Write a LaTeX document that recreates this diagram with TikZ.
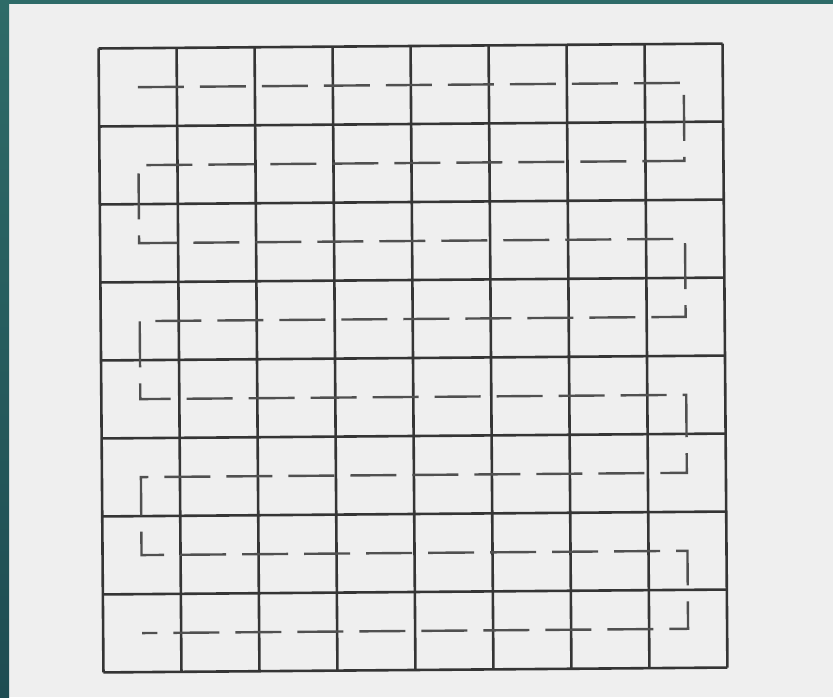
\documentclass[tikz,border=0pt]{standalone}
\definecolor{tealA}{HTML}{2E6B68}
\definecolor{tealB}{HTML}{1E4C52}
\definecolor{paper}{HTML}{EFEFEF}
\definecolor{gridc}{HTML}{353535}
\definecolor{pathc}{HTML}{505050}
\begin{document}
\begin{tikzpicture}[x=1pt,y=-1pt,
  gridline/.style={draw=gridc,line width=2.6pt,line cap=square},
  snake/.style={draw=pathc,line width=2.4pt,dash pattern=on 46pt off 16pt,line join=miter}]
\useasboundingbox (0,0) rectangle (833,697);
\fill[paper] (0,0) rectangle (833,697);
\shade[top color=tealA,bottom color=tealB] (0,0) rectangle (9,697);
\fill[tealA] (0,0) rectangle (833,4);
\begin{scope}[rotate around={0.45:(413,358)}]
  \foreach \i in {0,...,8} {
    \draw[gridline] ({101+78*\i},46) -- ({101+78*\i},670);
    \draw[gridline] (101,{46+78*\i}) -- (725,{46+78*\i});
  }
  \foreach \r in {1,...,8} {
    \foreach \c in {1,...,8} {
      \coordinate (c\r-\c) at ({101+78*\c-39},{46+78*\r-39});
    }
  }
  \draw[snake] (c1-1) -- (c1-8) -- (c2-8) -- (c2-1) -- (c3-1) -- (c3-8)
    -- (c4-8) -- (c4-1) -- (c5-1) -- (c5-8) -- (c6-8) -- (c6-1)
    -- (c7-1) -- (c7-8) -- (c8-8) -- (c8-1);
\end{scope}
\end{tikzpicture}
\end{document}
